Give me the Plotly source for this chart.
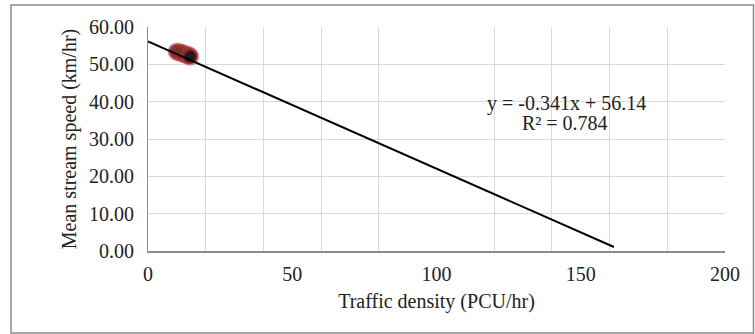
import plotly.graph_objects as go

# Data
density = [10.0, 11.0, 12.0, 13.0, 14.0, 14.6]
speed = [53.4, 53.2, 53.0, 52.6, 52.4, 52.1]
slope = -0.341
intercept = 56.14
trend_x = [0, 161.5]
trend_y = [slope * x + intercept for x in trend_x]
eq_line1 = "y = -0.341x + 56.14"
eq_line2 = "R² = 0.784"

font = "Liberation Serif, Times New Roman, serif"

fig = go.Figure()
fig.add_trace(go.Scatter(
    x=density, y=speed, mode="markers",
    marker=dict(size=15, color="rgba(40,25,25,0.92)",
                line=dict(color="rgba(190,60,60,0.55)", width=3.5)),
    showlegend=False, hoverinfo="skip"))
fig.add_trace(go.Scatter(
    x=trend_x, y=trend_y, mode="lines",
    line=dict(color="black", width=2), showlegend=False))

fig.add_annotation(xref="x", yref="y", x=145, y=39.6, text=eq_line1,
                   showarrow=False, font=dict(family=font, size=20, color="#222"))
fig.add_annotation(xref="x", yref="y", x=144.5, y=34.3, text=eq_line2,
                   showarrow=False, font=dict(family=font, size=20, color="#222"))

fig.add_shape(type="rect", xref="paper", yref="paper",
              x0=-0.2374, x1=1.0494, y0=-0.366, y1=1.098,
              line=dict(color="#8a8a8a", width=1.5), fillcolor="rgba(0,0,0,0)", layer="below")

fig.update_layout(
    width=755, height=334,
    margin=dict(l=148, r=30, t=27, b=83),
    paper_bgcolor="white", plot_bgcolor="white",
    font=dict(family=font, size=20, color="#222"),
    xaxis=dict(range=[0, 200], dtick=50, tick0=0, showgrid=False,
               minor=dict(dtick=20, tick0=0, showgrid=True, gridcolor="#d9d9d9", gridwidth=1, ticks=""),
               showline=True, linecolor="#8c8c8c", linewidth=2, zeroline=False,
               ticks="outside", ticklen=4, tickcolor="rgba(0,0,0,0)",
               title=dict(text="Traffic density (PCU/hr)", standoff=10,
                          font=dict(family=font, size=20)),
               tickfont=dict(family=font, size=20)),
    yaxis=dict(range=[0, 60], dtick=10, tickformat=".2f",
               showgrid=True, gridcolor="#d9d9d9", gridwidth=1,
               showline=True, linecolor="#8c8c8c", linewidth=1, zeroline=False,
               ticks="outside", ticklen=9, tickcolor="rgba(0,0,0,0)",
               title=dict(text="Mean stream speed (km/hr)", standoff=7,
                          font=dict(family=font, size=20)),
               tickfont=dict(family=font, size=20)),
)

fig.write_html("out.html")
